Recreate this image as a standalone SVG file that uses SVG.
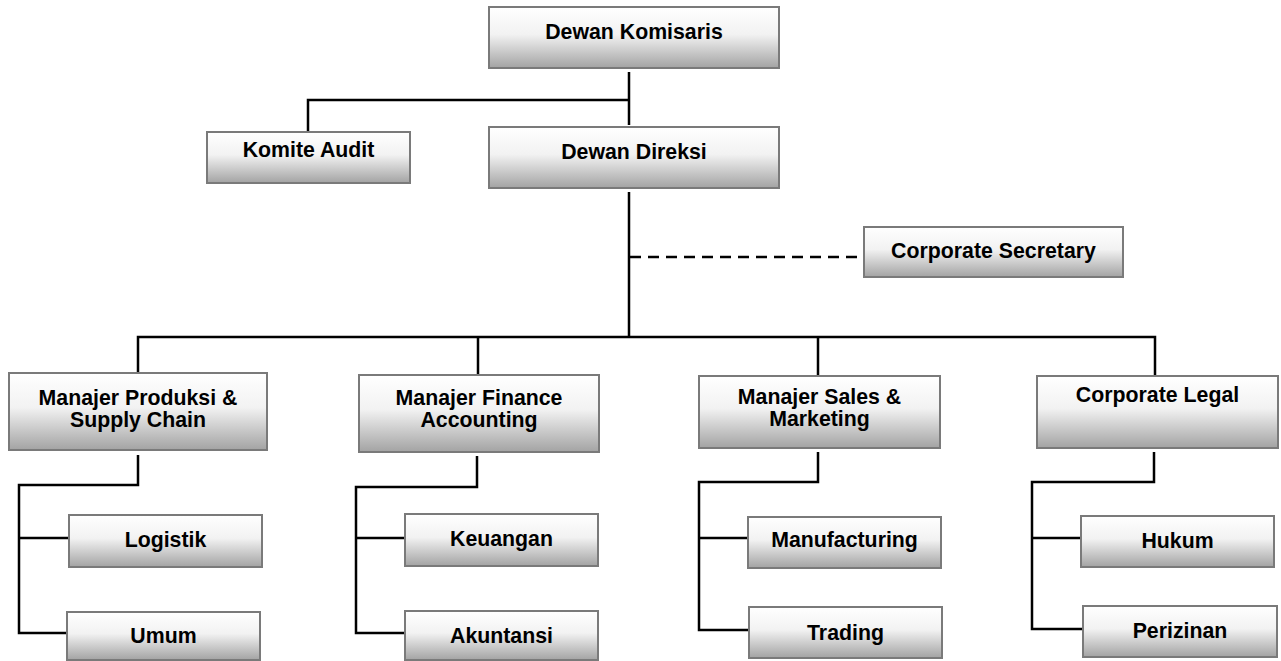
<svg xmlns="http://www.w3.org/2000/svg" width="1281" height="661" viewBox="0 0 1281 661">
<defs>
<linearGradient id="g" x1="0" y1="0" x2="0" y2="1">
<stop offset="0" stop-color="#ffffff"/>
<stop offset="0.45" stop-color="#f2f2f2"/>
<stop offset="1" stop-color="#a3a3a3"/>
</linearGradient>
<style>
.box{fill:url(#g);stroke:#7a7a7a;stroke-width:2}
.sh{fill:#c8c8c8}
text{font-family:"Liberation Sans",Arial,sans-serif;font-weight:bold;font-size:21.3px;fill:#000;text-anchor:middle}
.ln{fill:none;stroke:#000;stroke-width:2.5}
.dash{fill:none;stroke:#000;stroke-width:2.5;stroke-dasharray:11 7}
</style>
</defs>
<rect width="1281" height="661" fill="#fff"/>
<g id="connectors">
<path class="ln" d="M629 72V125M308 132V100H629"/>
<path class="ln" d="M629 192V337M138 373V337H1155V376M478 337V375M818 337V376"/>
<path class="dash" d="M630 257H864"/>
<path class="ln" d="M138 455V485H19V633H67M19 538H69"/>
<path class="ln" d="M477 456V487H356V633H405M356 538H405"/>
<path class="ln" d="M818 452V482H699V630H749M699 538H748"/>
<path class="ln" d="M1154 452V482H1032V629H1083M1032 538H1081"/>
</g>
<g id="dewan-komisaris"><rect class="box" x="489" y="7" width="290" height="61"/><text x="634" y="39">Dewan Komisaris</text></g>
<g id="komite-audit"><rect class="box" x="207" y="132" width="203" height="51"/><text x="308.5" y="157">Komite Audit</text></g>
<g id="dewan-direksi"><rect class="box" x="489" y="127" width="290" height="61"/><text x="634" y="159">Dewan Direksi</text></g>
<g id="corporate-secretary"><rect class="box" x="864" y="227" width="259" height="50"/><text x="993.5" y="258">Corporate Secretary</text></g>
<g id="manajer-produksi"><rect class="box" x="9" y="373" width="258" height="77"/><text x="138" y="405">Manajer Produksi &amp;</text><text x="138" y="427">Supply Chain</text></g>
<g id="manajer-finance"><rect class="box" x="359" y="375" width="240" height="77"/><text x="479" y="405">Manajer Finance</text><text x="479" y="427">Accounting</text></g>
<g id="manajer-sales"><rect class="box" x="699" y="376" width="241" height="72"/><text x="819.5" y="404">Manajer Sales &amp;</text><text x="819.5" y="426">Marketing</text></g>
<g id="corporate-legal"><rect class="box" x="1037" y="376" width="241" height="72"/><text x="1157.5" y="402">Corporate Legal</text></g>
<g id="logistik"><rect class="box" x="69" y="515" width="193" height="52"/><text x="165.5" y="547">Logistik</text></g>
<g id="umum"><rect class="box" x="67" y="612" width="193" height="48"/><text x="163.5" y="643">Umum</text></g>
<g id="keuangan"><rect class="box" x="405" y="514" width="193" height="52"/><text x="501.5" y="546">Keuangan</text></g>
<g id="akuntansi"><rect class="box" x="405" y="611" width="193" height="49"/><text x="501.5" y="643">Akuntansi</text></g>
<g id="manufacturing"><rect class="box" x="748" y="517" width="193" height="51"/><text x="844.5" y="547">Manufacturing</text></g>
<g id="trading"><rect class="box" x="749" y="607" width="193" height="51"/><text x="845.5" y="640">Trading</text></g>
<g id="hukum"><rect class="box" x="1081" y="516" width="193" height="51"/><text x="1177.5" y="548">Hukum</text></g>
<g id="perizinan"><rect class="box" x="1083" y="606" width="194" height="51"/><text x="1180" y="638">Perizinan</text></g>
</svg>
